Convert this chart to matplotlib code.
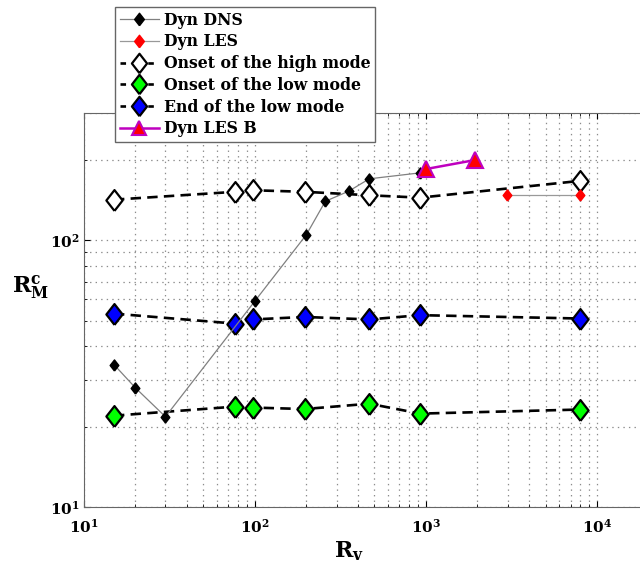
import numpy as np
import matplotlib
matplotlib.use('Agg')
import matplotlib.pyplot as plt
from matplotlib.lines import Line2D
from matplotlib.ticker import LogLocator, NullFormatter

plt.rcParams['font.family'] = ['DejaVu Serif']
plt.rcParams['font.weight'] = 'bold'
plt.rcParams['mathtext.fontset'] = 'dejavuserif'
plt.rcParams['mathtext.default'] = 'bf'
plt.rcParams['lines.scale_dashes'] = False
plt.rcParams['path.simplify'] = False

# данные
dns_x = [15, 20, 30, 100, 200, 258, 355, 466, 925]
dns_y = [34.2, 28.0, 21.8, 59.2, 105, 140, 153, 170, 179]

les_x = [2965, 7940]
les_y = [148, 148]

modes_x = [15, 77, 98, 195, 466, 925, 7940]
high_y = [142, 152, 154, 152, 147.5, 144.5, 167]
low_on_y = [22.0, 23.8, 23.6, 23.3, 24.4, 22.4, 23.2]
low_end_y = [53.1, 48.7, 50.5, 51.6, 50.5, 52.4, 50.9]

lesb_x = [1000, 1940]
lesb_y = [185, 200]

# ромб чуть выше, чем шире (как в matlab)
diamond = [(0, -1), (0.78, 0), (0, 1), (-0.78, 0), (0, -1)]

fig = plt.figure(figsize=(6.4, 5.64), dpi=100)
# оси обрезаны правым краем рисунка
ax = fig.add_axes([0.131, 0.101, 0.869, 0.6986])

ax.plot(dns_x, dns_y, '-', color='0.5', lw=0.9, marker=diamond, ms=8,
        mfc='k', mec='k', zorder=5)
ax.plot(les_x, les_y, '-', color='0.6', lw=0.9, marker=diamond, ms=8,
        mfc='r', mec='r', zorder=5)

handles = [
    Line2D([], [], color='0.5', lw=0.9, marker=diamond, ms=9, mfc='k', mec='k'),
    Line2D([], [], color='0.6', lw=0.9, marker=diamond, ms=9, mfc='r', mec='r'),
]
for yy, fc in [(high_y, 'w'), (low_on_y, '#00ff00'), (low_end_y, 'b')]:
    ln, = ax.plot(modes_x, yy, color='k', lw=1.9, zorder=3)
    ln.set_dashes([7.5, 4.5])
    ln.set_dash_capstyle('butt')
    ax.plot(modes_x, yy, ls='none', marker=diamond, ms=15, mfc=fc,
            mec='k', mew=1.6, zorder=4)
    handles.append(Line2D([], [], color='k', lw=1.9, ls=(0, (4, 6)),
                          marker=diamond, ms=14, mfc=fc, mec='k', mew=1.6))

ax.plot(lesb_x, lesb_y, '-', color='m', lw=1.8, marker='^', ms=11,
        mfc='r', mec='m', mew=1.5, zorder=6)
handles.append(Line2D([], [], color='m', lw=1.8, marker='^', ms=10,
                      mfc='r', mec='m', mew=1.5))

labels = ['Dyn DNS', 'Dyn LES', 'Onset of the high mode',
          'Onset of the low mode', 'End of the low mode', 'Dyn LES B']

ax.set_xscale('log')
ax.set_yscale('log')
ax.set_xlim(10, 10**4.251)
ax.set_ylim(10, 300)

ax.xaxis.set_major_locator(LogLocator(base=10, numticks=10))
ax.yaxis.set_major_locator(LogLocator(base=10, numticks=10))
ax.xaxis.set_minor_locator(LogLocator(base=10, subs=np.arange(2, 10), numticks=20))
ax.yaxis.set_minor_locator(LogLocator(base=10, subs=np.arange(2, 10), numticks=20))
ax.xaxis.set_minor_formatter(NullFormatter())
ax.yaxis.set_minor_formatter(NullFormatter())

ax.grid(True, which='both', ls=(0, (1, 3)), color='0.55', lw=0.9)
ax.tick_params(which='both', direction='in', top=True, right=False, labelsize=11)
ax.tick_params(which='major', length=4)
ax.tick_params(which='minor', length=2)
ax.tick_params(axis='x', pad=8)
ax.tick_params(axis='y', pad=3)
ax.spines['right'].set_visible(False)
for s in ax.spines.values():
    s.set_color('0.4')

fig.text(349 / 640, 1 - 557 / 564, r'$\mathbf{R_v}$', fontsize=16,
         ha='center', va='baseline')
fig.text(31 / 640, 1 - 292 / 564, r'$\mathbf{R_M^c}$', fontsize=16,
         ha='center', va='baseline')

leg = ax.legend(handles, labels, loc='upper left',
                bbox_to_anchor=(115 / 640, 1 - 7 / 564),
                bbox_transform=fig.transFigure, handlelength=2.5,
                borderpad=0.3, labelspacing=0.3, handletextpad=0.3,
                borderaxespad=0, fancybox=False, framealpha=1, edgecolor='0.4',
                prop={'weight': 'bold', 'size': 11.3})
leg.set_zorder(10)

plt.savefig('out.png', dpi=100)
